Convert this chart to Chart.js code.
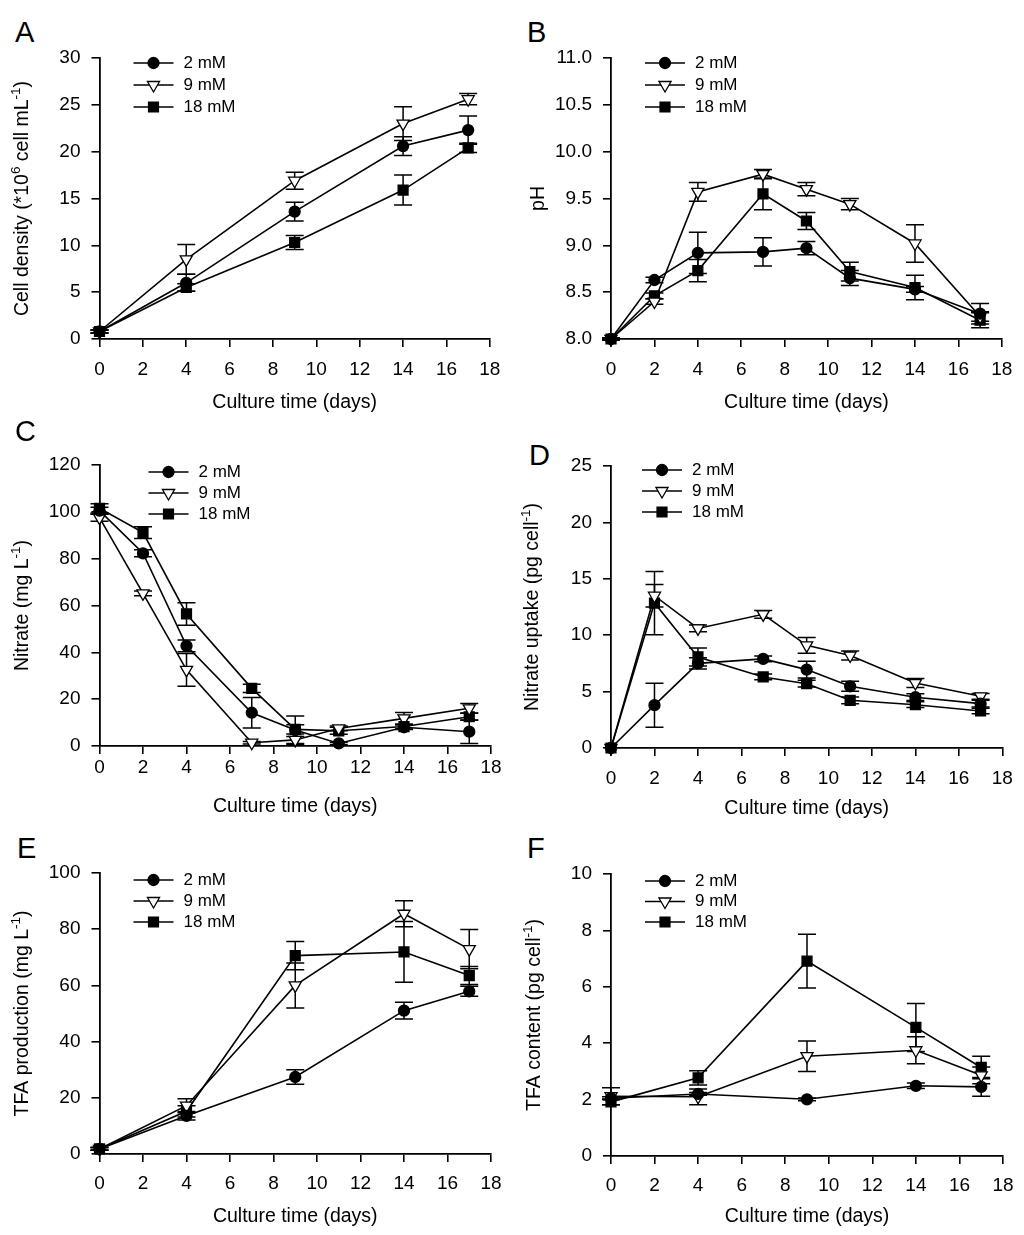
<!DOCTYPE html>
<html>
<head>
<meta charset="utf-8">
<script src="https://cdn.jsdelivr.net/npm/chart.js@4.4.1/dist/chart.umd.min.js"></script>
<style>
  body { margin: 0; background: #fff; width: 1024px; height: 1235px; position: relative; overflow: hidden; font-family: "Liberation Sans", Arial, sans-serif; }
  canvas { position: absolute; }
  .letter { position: absolute; font-size: 29px; line-height: 1; color: #000; }
</style>
</head>
<body>
<script>
// culture days
const days5 = [0, 4, 9, 14, 17];
const days8 = [0, 2, 4, 7, 9, 11, 14, 17];
const seriesNames = ["2 mM", "9 mM", "18 mM"];

// tick labels
const xTicks = [0, 2, 4, 6, 8, 10, 12, 14, 16, 18];
const ticksA = [0, 5, 10, 15, 20, 25, 30];
const ticksB = [8.0, 8.5, 9.0, 9.5, 10.0, 10.5, 11.0];
const ticksC = [0, 20, 40, 60, 80, 100, 120];
const ticksD = [0, 5, 10, 15, 20, 25];
const ticksE = [0, 20, 40, 60, 80, 100];
const ticksF = [0, 2, 4, 6, 8, 10];

// A - cell density
const cell2 = [0.8, 6.0, 13.6, 20.6, 22.3];
const cell9 = [0.8, 8.5, 16.9, 23.0, 25.6];
const cell18 = [0.8, 5.5, 10.3, 15.9, 20.4];
const cell2Err = [0.15, 0.9, 1.0, 1.0, 1.5];
const cell9Err = [0.15, 1.6, 0.9, 1.8, 0.6];
const cell18Err = [0.15, 0.4, 0.75, 1.6, 0.5];

// B - pH
const ph2 = [8.0, 8.63, 8.92, 8.93, 8.97, 8.65, 8.53, 8.27];
const ph9 = [8.0, 8.40, 9.57, 9.76, 9.60, 9.44, 9.02, 8.24];
const ph18 = [8.0, 8.46, 8.73, 9.55, 9.26, 8.72, 8.55, 8.20];
const ph2Err = [0.01, 0.03, 0.22, 0.15, 0.07, 0.08, 0.03, 0.11];
const ph9Err = [0.01, 0.03, 0.1, 0.05, 0.07, 0.06, 0.2, 0.05];
const ph18Err = [0.01, 0.03, 0.12, 0.17, 0.09, 0.1, 0.13, 0.08];

// C - nitrate
const no2 = [100.5, 82.3, 42.8, 14.2, 6.8, 1.1, 8.0, 6.1];
const no9 = [97.5, 65.2, 32.5, 1.4, 2.6, 7.5, 11.8, 16.1];
const no18 = [101.5, 91.1, 56.4, 24.6, 7.1, 6.5, 8.3, 12.5];
const no2Err = [1.5, 1.5, 2.5, 6.5, 6.0, 0.5, 1.0, 5.0];
const no9Err = [1.5, 1.0, 7.0, 0.5, 1.5, 1.0, 2.5, 2.0];
const no18Err = [2.0, 2.5, 4.8, 1.8, 2.0, 1.5, 1.0, 1.5];

// D - nitrate uptake
const up2 = [0, 3.8, 7.5, 7.9, 6.95, 5.47, 4.5, 3.93];
const up9 = [0, 13.5, 10.6, 11.85, 9.1, 8.2, 5.76, 4.58];
const up18 = [0, 12.85, 8.07, 6.3, 5.7, 4.23, 3.84, 3.28];
const up2Err = [0, 1.95, 0.5, 0.25, 0.75, 0.45, 0.3, 0.3];
const up9Err = [0, 1.0, 0.3, 0.35, 0.7, 0.4, 0.4, 0.25];
const up18Err = [0, 2.8, 0.8, 0.25, 0.3, 0.3, 0.25, 0.25];

// E - TFA production
const tfa2 = [1.8, 13.6, 27.4, 51.0, 57.9];
const tfa9 = [1.8, 17.2, 60.0, 85.5, 72.9];
const tfa18 = [1.8, 15.2, 70.6, 71.9, 63.5];
const tfa2Err = [0.5, 1.5, 2.6, 3.0, 1.8];
const tfa9Err = [0.5, 2.5, 8.0, 4.6, 7.0];
const tfa18Err = [0.5, 2.0, 5.0, 10.8, 3.2];

// F - TFA content
const cont2 = [2.05, 2.2, 2.01, 2.49, 2.45];
const cont9 = [2.12, 2.1, 3.54, 3.75, 2.86];
const cont18 = [1.92, 2.77, 6.91, 4.56, 3.14];
const cont2Err = [0.05, 0.05, 0.05, 0.1, 0.33];
const cont9Err = [0.3, 0.28, 0.54, 0.48, 0.3];
const cont18Err = [0.1, 0.25, 0.95, 0.85, 0.4];

const markers = [
    { pointStyle: "circle", radius: 5.5, rotation: 0, fill: "#000" },
    { pointStyle: "triangle", radius: 7, rotation: 180, fill: "#fff" },
    { pointStyle: "rect", radius: 7, rotation: 0, fill: "#000" }
];

const FONT = "'Liberation Sans', Arial, sans-serif";

// y titles use ^{..} for superscripts
const panels = [
    { letter: "A", left: 0, top: 0, h: 420, plot: [99.5, 58, 491, 339], lx: 15, ly: 18,
      yTitle: "Cell density (*10^{6} cell mL^{-1})", yTicks: ticksA, days: days5,
      values: [cell2, cell9, cell18], errors: [cell2Err, cell9Err, cell18Err],
      titleY: 403, labelOff: 31, legend: { x: 34, y: 5, gap: 22 } },
    { letter: "B", left: 512, top: 0, h: 420, plot: [99, 58, 491, 339], lx: 527, ly: 18,
      yTitle: "pH", yTitleX: 25, yTicks: ticksB, days: days8, fixed: 1,
      values: [ph2, ph9, ph18], errors: [ph2Err, ph9Err, ph18Err],
      titleY: 403, labelOff: 31, legend: { x: 34, y: 5, gap: 22 } },
    { letter: "C", left: 0, top: 420, h: 400, plot: [99.5, 45, 491, 326], lx: 15, ly: 417,
      yTitle: "Nitrate (mg L^{-1})", yTicks: ticksC, days: days8,
      values: [no2, no9, no18], errors: [no2Err, no9Err, no18Err],
      titleY: 807, labelOff: 22, legend: { x: 49, y: 7, gap: 21 } },
    { letter: "D", left: 512, top: 420, h: 400, plot: [99, 46, 491, 328], lx: 529, ly: 441,
      yTitle: "Nitrate uptake (pg cell^{-1})", yTitleX: 19, yTicks: ticksD, days: days8,
      values: [up2, up9, up18], errors: [up2Err, up9Err, up18Err],
      titleY: 809, labelOff: 30.5, legend: { x: 31, y: 4, gap: 21 } },
    { letter: "E", left: 0, top: 820, h: 415, plot: [99.5, 53, 491, 334], lx: 17, ly: 834,
      yTitle: "TFA production (mg L^{-1})", yTicks: ticksE, days: days5,
      values: [tfa2, tfa9, tfa18], errors: [tfa2Err, tfa9Err, tfa18Err],
      titleY: 1217, labelOff: 29.7, legend: { x: 34, y: 7, gap: 21 } },
    { letter: "F", left: 512, top: 820, h: 415, plot: [99, 54, 491, 336], lx: 527, ly: 834,
      yTitle: "TFA content (pg cell^{-1})", yTicks: ticksF, days: days5,
      values: [cont2, cont9, cont18], errors: [cont2Err, cont9Err, cont18Err],
      titleY: 1217, labelOff: 29.3, legend: { x: 34, y: 7, gap: 20.5 } }
];

function drawMarker(ctx, m, x, y) {
    ctx.beginPath();
    if (m.pointStyle === "circle") {
        ctx.arc(x, y, m.radius, 0, Math.PI * 2);
    } else if (m.pointStyle === "rect") {
        const s = m.radius * Math.SQRT1_2;
        ctx.rect(x - s, y - s, 2 * s, 2 * s);
    } else {
        for (let k = 0; k < 3; k++) {
            const a = Math.PI + k * 2 * Math.PI / 3;
            ctx.lineTo(x + Math.sin(a) * m.radius, y - Math.cos(a) * m.radius);
        }
        ctx.closePath();
    }
    ctx.fillStyle = m.fill;
    ctx.fill();
    ctx.strokeStyle = "#000";
    ctx.lineWidth = 1.3;
    ctx.stroke();
}

const errorBars = {
    id: "errorBars",
    beforeDatasetsDraw(chart) {
        const ctx = chart.ctx;
        const xs = chart.scales.x, ys = chart.scales.y;
        ctx.save();
        ctx.strokeStyle = "#000";
        ctx.lineWidth = 1.5;
        chart.data.datasets.forEach(ds => {
            ds.data.forEach((pt, j) => {
                const e = ds.errors[j];
                if (!e) return;
                const px = xs.getPixelForValue(pt.x);
                const y1 = ys.getPixelForValue(pt.y + e);
                const y2 = ys.getPixelForValue(pt.y - e);
                ctx.beginPath();
                ctx.moveTo(px, y1); ctx.lineTo(px, y2);
                ctx.moveTo(px - 9, y1); ctx.lineTo(px + 9, y1);
                ctx.moveTo(px - 9, y2); ctx.lineTo(px + 9, y2);
                ctx.stroke();
            });
        });
        ctx.restore();
    }
};

const panelLegend = {
    id: "panelLegend",
    afterDraw(chart, args, opts) {
        const ctx = chart.ctx, a = chart.chartArea;
        ctx.save();
        chart.data.datasets.forEach((ds, i) => {
            const y = a.top + opts.y + i * opts.gap;
            const x0 = a.left + opts.x;
            ctx.strokeStyle = "#000";
            ctx.lineWidth = 1.6;
            ctx.beginPath();
            ctx.moveTo(x0, y);
            ctx.lineTo(x0 + 40, y);
            ctx.stroke();
            drawMarker(ctx, markers[i], x0 + 20, y);
            ctx.fillStyle = "#000";
            ctx.font = "17px " + FONT;
            ctx.textBaseline = "middle";
            ctx.textAlign = "left";
            ctx.fillText(ds.label, x0 + 50, y);
        });
        ctx.restore();
    }
};

// rotated y title with real superscripts
const yTitle = {
    id: "yTitle",
    afterDraw(chart, args, opts) {
        const ctx = chart.ctx, a = chart.chartArea;
        const parts = [];
        opts.text.split(/(\^\{[^}]*\})/).forEach(s => {
            if (!s) return;
            if (s.startsWith("^{")) parts.push({ t: s.slice(2, -1), sup: true });
            else parts.push({ t: s, sup: false });
        });
        const big = "19.5px " + FONT, small = "13.5px " + FONT;
        let total = 0;
        parts.forEach(p => {
            ctx.font = p.sup ? small : big;
            p.w = ctx.measureText(p.t).width;
            total += p.w;
        });
        ctx.save();
        ctx.translate(opts.x, (a.top + a.bottom) / 2);
        ctx.rotate(-Math.PI / 2);
        ctx.fillStyle = "#000";
        ctx.textBaseline = "alphabetic";
        ctx.textAlign = "left";
        let x = -total / 2;
        parts.forEach(p => {
            ctx.font = p.sup ? small : big;
            ctx.fillText(p.t, x, p.sup ? -1 : 7);
            x += p.w;
        });
        ctx.restore();
    }
};

panels.forEach(p => {
    const letter = document.createElement("div");
    letter.className = "letter";
    letter.style.left = p.lx + "px";
    letter.style.top = p.ly + "px";
    letter.textContent = p.letter;
    document.body.appendChild(letter);

    const canvas = document.createElement("canvas");
    canvas.width = 512;
    canvas.height = p.h;
    canvas.style.left = p.left + "px";
    canvas.style.top = p.top + "px";
    document.body.appendChild(canvas);

    const [pl, pt, pr, pb] = p.plot;
    const tickFont = { family: FONT, size: 19 };
    const titleFont = { family: FONT, size: 19.5 };
    const titleLH = 19.5 * 1.2;
    const tickLH = 19 * 1.2;

    new Chart(canvas, {
        type: "line",
        data: {
            datasets: p.values.map((vals, i) => ({
                label: seriesNames[i],
                data: p.days.map((d, j) => ({ x: d, y: vals[j] })),
                errors: p.errors[i],
                borderColor: "#000",
                borderWidth: 1.6,
                backgroundColor: markers[i].fill,
                pointStyle: markers[i].pointStyle,
                pointRadius: markers[i].radius,
                pointRotation: markers[i].rotation,
                pointBackgroundColor: markers[i].fill,
                pointBorderColor: "#000",
                pointBorderWidth: 1.3,
                tension: 0,
                clip: false
            }))
        },
        options: {
            responsive: false,
            animation: false,
            events: [],
            layout: { padding: { top: pt, right: 512 - pr, left: 0, bottom: 0 } },
            plugins: {
                legend: { display: false },
                tooltip: { enabled: false },
                panelLegend: p.legend,
                yTitle: { text: p.yTitle, x: p.yTitleX || 21 }
            },
            scales: {
                x: {
                    type: "linear",
                    min: 0,
                    max: 18,
                    afterBuildTicks: s => { s.ticks = xTicks.map(v => ({ value: v })); },
                    afterFit: s => { s.height = p.h - pb; },
                    grid: { drawOnChartArea: false, drawTicks: true, tickLength: 8, color: "#000", lineWidth: 1.6 },
                    border: { display: true, color: "#000", width: 1.8 },
                    ticks: { color: "#000", font: tickFont, padding: p.labelOff - 8 - tickLH / 2, maxRotation: 0, autoSkip: false },
                    title: {
                        display: true, text: "Culture time (days)", color: "#000", font: titleFont,
                        padding: { top: 0, bottom: p.h - (p.titleY - p.top) - titleLH / 2 }
                    }
                },
                y: {
                    type: "linear",
                    min: p.yTicks[0],
                    max: p.yTicks[p.yTicks.length - 1],
                    afterBuildTicks: s => { s.ticks = p.yTicks.map(v => ({ value: v })); },
                    afterFit: s => { s.width = pl; },
                    grid: { drawOnChartArea: false, drawTicks: true, tickLength: 8, color: "#000", lineWidth: 1.6 },
                    border: { display: true, color: "#000", width: 1.8 },
                    ticks: {
                        color: "#000", font: tickFont, padding: 11,
                        callback: v => p.fixed ? v.toFixed(p.fixed) : v
                    }
                }
            }
        },
        plugins: [errorBars, panelLegend, yTitle]
    });
});
</script>
</body>
</html>
